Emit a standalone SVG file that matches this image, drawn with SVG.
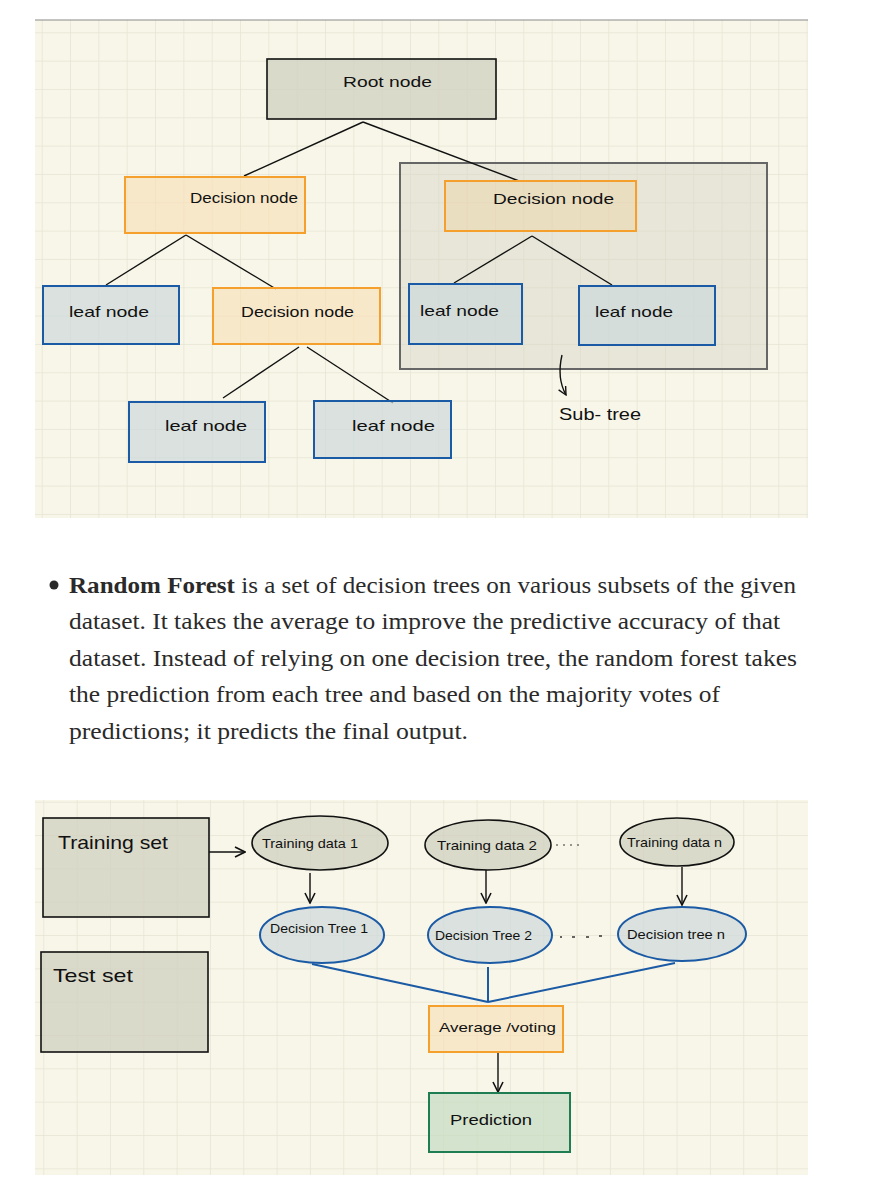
<svg xmlns="http://www.w3.org/2000/svg" width="880" height="1200" viewBox="0 0 880 1200">
<defs>
<pattern id="gridA" patternUnits="userSpaceOnUse" x="41.7" y="32.3" width="28.33" height="28.33">
<rect width="28.33" height="28.33" fill="#f8f6e8"/>
<rect x="-0.75" y="0" width="1.5" height="28.33" fill="#e6e4d3"/>
<rect x="0" y="-0.75" width="28.33" height="1.5" fill="#e6e4d3"/>
</pattern>
<pattern id="gridB" patternUnits="userSpaceOnUse" x="43.3" y="801.7" width="33.33" height="33.33">
<rect width="33.33" height="33.33" fill="#f8f6e8"/>
<rect x="-0.75" y="0" width="1.5" height="33.33" fill="#e6e4d3"/>
<rect x="0" y="-0.75" width="33.33" height="1.5" fill="#e6e4d3"/>
</pattern>
<marker id="chev" viewBox="0 0 10 10" refX="9" refY="5" markerWidth="10" markerHeight="10" markerUnits="userSpaceOnUse" orient="auto">
<path d="M1,1 L9,5 L1,9" fill="none" stroke="#111" stroke-width="1.4"/>
</marker>
<marker id="chevB" viewBox="0 0 12 12" refX="11" refY="6" markerWidth="12" markerHeight="12" markerUnits="userSpaceOnUse" orient="auto">
<path d="M1,1 L11,6 L1,11" fill="none" stroke="#111" stroke-width="1.6"/>
</marker>
</defs>
<style>
.hand{font-family:"Liberation Sans","DejaVu Sans",sans-serif;fill:#111;}
.t15{font-size:15px;}
.t13{font-size:13px;}
.gray{fill:#d0d0c0;fill-opacity:0.75;stroke:#111;stroke-width:1.6;}
.orange{fill:#f9dfb5;fill-opacity:0.6;stroke:#f5a02c;stroke-width:2;}
.leaf{fill:#cdd8db;fill-opacity:0.7;stroke:#1b5aa4;stroke-width:2;}
.green{fill:#c4dcc2;fill-opacity:0.7;stroke:#1e7d52;stroke-width:2;}
.line{stroke:#111;stroke-width:1.4;fill:none;}
.bline{stroke:#1b5aa4;stroke-width:2;fill:none;}
.para{font-family:"Liberation Serif","Times New Roman",serif;font-size:24px;fill:#2a2a2a;}
</style>
<rect width="880" height="1200" fill="#ffffff"/>
<!-- top panel -->
<rect x="35" y="20" width="773" height="498" fill="url(#gridA)"/>
<line x1="35" y1="20" x2="808" y2="20" stroke="#8a8a8a" stroke-width="1.2"/>
<!-- bottom panel -->
<rect x="35" y="800" width="773" height="375" fill="url(#gridB)"/>

<g id="subtree">
<rect x="400" y="163" width="367" height="206" fill="#d6d6c8" fill-opacity="0.5" stroke="#666" stroke-width="2"/>
</g>

<g id="connectors">
<line class="line" x1="363" y1="122" x2="244" y2="176"/>
<line class="line" x1="363" y1="122" x2="519" y2="181"/>
<line class="line" x1="186" y1="235" x2="106" y2="285"/>
<line class="line" x1="186" y1="235" x2="276" y2="289"/>
<line class="line" x1="299" y1="347" x2="223" y2="398"/>
<line class="line" x1="307" y1="347" x2="393" y2="403"/>
<line class="line" x1="532" y1="236" x2="454" y2="283"/>
<line class="line" x1="532" y1="236" x2="612" y2="285"/>
<path class="line" d="M562,355 C558,372 561,386 566,395" marker-end="url(#chev)"/>
<line class="line" x1="209" y1="852" x2="245" y2="852" stroke-width="1.6" marker-end="url(#chevB)"/>
<line class="line" x1="310" y1="873" x2="310" y2="903" stroke-width="1.6" marker-end="url(#chevB)"/>
<line class="line" x1="486" y1="870" x2="486" y2="903" stroke-width="1.6" marker-end="url(#chevB)"/>
<line class="line" x1="682" y1="867" x2="682" y2="905" stroke-width="1.6" marker-end="url(#chevB)"/>
<polyline class="bline" points="312,964 488,1002"/>
<polyline class="bline" points="488,967 488,1002"/>
<polyline class="bline" points="675,963 488,1002"/>
<line class="line" x1="498" y1="1052" x2="498" y2="1092" stroke-width="1.8" marker-end="url(#chevB)"/>
<path d="M556,845 h2 M563,845 h2 M570,845 h2 M577,845 h2" stroke="#333" stroke-width="1.2"/>
<path d="M560,937 h2 M572,937 h3 M586,937 h3 M599,936 h3" stroke="#333" stroke-width="1.4"/>
</g>

<g id="root">
<rect class="gray" x="267" y="59" width="229" height="60"/>
<text class="hand t15" x="343" y="87" textLength="89" lengthAdjust="spacingAndGlyphs">Root node</text>
</g>
<g id="decision-left">
<rect class="orange" x="125" y="177" width="180" height="56"/>
<text class="hand t15" x="190" y="203" textLength="108" lengthAdjust="spacingAndGlyphs">Decision node</text>
</g>
<g id="decision-right">
<rect x="445" y="181" width="191" height="50" fill="#f2cf98" fill-opacity="0.35" stroke="#f5a02c" stroke-width="2"/>
<text class="hand t15" x="493" y="204" textLength="121" lengthAdjust="spacingAndGlyphs">Decision node</text>
</g>
<g id="leaf-1">
<rect class="leaf" x="43" y="286" width="136" height="58"/>
<text class="hand t15" x="69" y="317" textLength="80" lengthAdjust="spacingAndGlyphs">leaf node</text>
</g>
<g id="decision-mid">
<rect class="orange" x="213" y="288" width="167" height="56"/>
<text class="hand t15" x="241" y="317" textLength="113" lengthAdjust="spacingAndGlyphs">Decision node</text>
</g>
<g id="leaf-2">
<rect class="leaf" x="129" y="402" width="136" height="60"/>
<text class="hand t15" x="165" y="431" textLength="82" lengthAdjust="spacingAndGlyphs">leaf node</text>
</g>
<g id="leaf-3">
<rect class="leaf" x="314" y="401" width="137" height="57"/>
<text class="hand t15" x="352" y="431" textLength="83" lengthAdjust="spacingAndGlyphs">leaf node</text>
</g>
<g id="leaf-4">
<rect class="leaf" x="409" y="284" width="113" height="60"/>
<text class="hand t15" x="420" y="316" textLength="79" lengthAdjust="spacingAndGlyphs">leaf node</text>
</g>
<g id="leaf-5">
<rect class="leaf" x="579" y="286" width="136" height="59"/>
<text class="hand t15" x="595" y="317" textLength="78" lengthAdjust="spacingAndGlyphs">leaf node</text>
</g>
<g id="subtree-label">
<text class="hand" font-size="17" x="559" y="420" textLength="82" lengthAdjust="spacingAndGlyphs">Sub- tree</text>
</g>

<g id="paragraph">
<circle cx="54" cy="585" r="4.5" fill="#2a2a2a"/>
<text class="para" x="69" y="593" textLength="727" lengthAdjust="spacingAndGlyphs"><tspan font-weight="bold">Random Forest</tspan> is a set of decision trees on various subsets of the given</text>
<text class="para" x="69" y="629" textLength="711" lengthAdjust="spacingAndGlyphs">dataset. It takes the average to improve the predictive accuracy of that</text>
<text class="para" x="69" y="666" textLength="728" lengthAdjust="spacingAndGlyphs">dataset. Instead of relying on one decision tree, the random forest takes</text>
<text class="para" x="69" y="702" textLength="651" lengthAdjust="spacingAndGlyphs">the prediction from each tree and based on the majority votes of</text>
<text class="para" x="69" y="739" textLength="399" lengthAdjust="spacingAndGlyphs">predictions; it predicts the final output.</text>
</g>

<g id="training-set">
<rect class="gray" x="43" y="818" width="166" height="99" stroke-width="2"/>
<text class="hand" font-size="19" x="58" y="849" textLength="110" lengthAdjust="spacingAndGlyphs">Training set</text>
</g>
<g id="test-set">
<rect class="gray" x="41" y="952" width="167" height="100" stroke-width="2"/>
<text class="hand" font-size="19" x="53" y="982" textLength="80" lengthAdjust="spacingAndGlyphs">Test set</text>
</g>
<g id="training-data-1">
<ellipse class="gray" cx="320" cy="843" rx="68" ry="27"/>
<text class="hand t13" x="262" y="848" textLength="96" lengthAdjust="spacingAndGlyphs">Training data 1</text>
</g>
<g id="training-data-2">
<ellipse class="gray" cx="488" cy="845" rx="63" ry="25"/>
<text class="hand t13" x="437" y="850" textLength="100" lengthAdjust="spacingAndGlyphs">Training data 2</text>
</g>
<g id="training-data-n">
<ellipse class="gray" cx="677" cy="842" rx="57" ry="24"/>
<text class="hand t13" x="627" y="847" textLength="95" lengthAdjust="spacingAndGlyphs">Training data n</text>
</g>
<g id="decision-tree-1">
<ellipse class="leaf" cx="322" cy="935" rx="62" ry="28"/>
<text class="hand t13" x="270" y="933" textLength="98" lengthAdjust="spacingAndGlyphs">Decision Tree 1</text>
</g>
<g id="decision-tree-2">
<ellipse class="leaf" cx="490" cy="935" rx="62" ry="28"/>
<text class="hand t13" x="435" y="940" textLength="97" lengthAdjust="spacingAndGlyphs">Decision Tree 2</text>
</g>
<g id="decision-tree-n">
<ellipse class="leaf" cx="682" cy="934" rx="64" ry="27"/>
<text class="hand t13" x="627" y="939" textLength="98" lengthAdjust="spacingAndGlyphs">Decision tree n</text>
</g>
<g id="average-voting">
<rect class="orange" x="429" y="1006" width="134" height="46"/>
<text class="hand t13" x="439" y="1032" textLength="117" lengthAdjust="spacingAndGlyphs">Average /voting</text>
</g>
<g id="prediction">
<rect class="green" x="429" y="1093" width="141" height="59"/>
<text class="hand t15" x="450" y="1125" textLength="82" lengthAdjust="spacingAndGlyphs">Prediction</text>
</g>
</svg>
